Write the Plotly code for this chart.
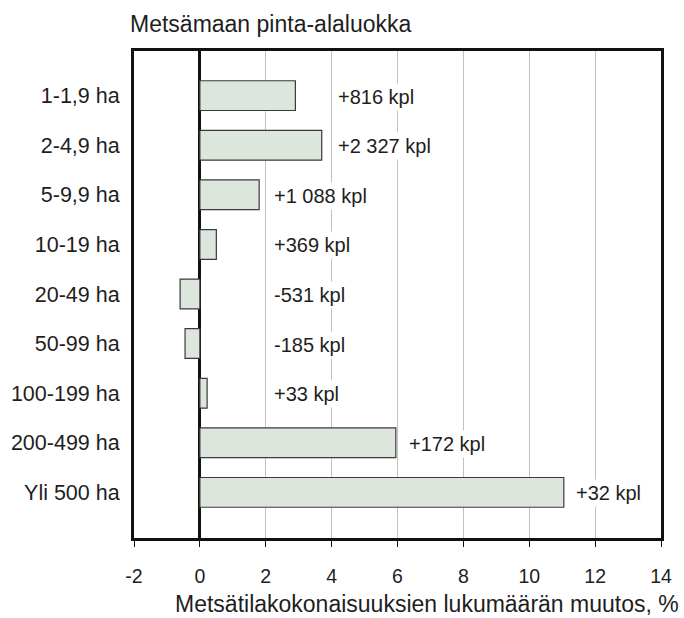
import plotly.graph_objects as go

categories = ["1-1,9 ha", "2-4,9 ha", "5-9,9 ha", "10-19 ha", "20-49 ha",
              "50-99 ha", "100-199 ha", "200-499 ha", "Yli 500 ha"]
change_pct = [2.9, 3.7, 1.8, 0.5, -0.6, -0.45, 0.22, 5.95, 11.05]
count_labels = ["+816 kpl", "+2 327 kpl", "+1 088 kpl", "+369 kpl", "-531 kpl",
                "-185 kpl", "+33 kpl", "+172 kpl", "+32 kpl"]
# where each count label starts along the x axis (layout, in % units)
label_x = [4.1, 4.1, 2.15, 2.15, 2.15, 2.15, 2.15, 6.27, 11.33]
x_ticks = [-2, 0, 2, 4, 6, 8, 10, 12, 14]

FONT = "Liberation Sans, Arial, Helvetica, sans-serif"
TXT = "#1e1e1e"

fig = go.Figure()
fig.add_trace(go.Bar(
    y=categories, x=change_pct, orientation="h", width=0.6,
    marker=dict(color="#dde6dc", line=dict(color="#3a3a3a", width=1.2)),
    hoverinfo="x+y",
))

for lab, lx, cat in zip(count_labels, label_x, categories):
    fig.add_annotation(x=lx, y=cat, text=lab, showarrow=False, xanchor="left",
                       yanchor="middle", yshift=-1, bgcolor="white", borderpad=2,
                       font=dict(family=FONT, size=20, color=TXT))

# chart heading above the frame
fig.add_annotation(xref="paper", yref="paper", x=-0.012, y=1.0, yshift=42,
                   text="Metsämaan pinta-alaluokka", showarrow=False,
                   xanchor="left", yanchor="top",
                   font=dict(family=FONT, size=23, color=TXT))

# x-axis title, right aligned like the reference
fig.add_annotation(xref="paper", yref="paper", x=1.038, y=0.0, yshift=-51,
                   text="Metsätilakokonaisuuksien lukumäärän muutos, %",
                   showarrow=False, xanchor="right", yanchor="top",
                   font=dict(family=FONT, size=23, color=TXT))

fig.update_layout(
    width=684, height=618,
    margin=dict(l=134, r=23, t=51, b=80),
    paper_bgcolor="white", plot_bgcolor="white",
    showlegend=False,
    font=dict(family=FONT, size=20, color=TXT),
    xaxis=dict(
        range=[-2, 14], tickvals=x_ticks, ticktext=[str(v) for v in x_ticks],
        showgrid=True, gridcolor="#c2c2c2", gridwidth=1,
        zeroline=True, zerolinecolor="#111", zerolinewidth=3,
        showline=True, linecolor="#111", linewidth=3, mirror=True,
        ticks="outside", ticklen=6, tickwidth=1, tickcolor="#111",
        ticklabelstandoff=13,
        tickfont=dict(family=FONT, size=19.5, color=TXT),
    ),
    yaxis=dict(
        categoryorder="array", categoryarray=categories,
        autorange=False, range=[8.92, -0.9],
        showgrid=False, zeroline=False,
        showline=True, linecolor="#111", linewidth=3, mirror=True,
        ticks="", ticklabelstandoff=7,
        tickfont=dict(family=FONT, size=21.5, color=TXT),
    ),
)

fig.write_html("out.html", config={"displayModeBar": False},
               post_script="document.body.style.margin='0';document.body.style.padding='0';")
